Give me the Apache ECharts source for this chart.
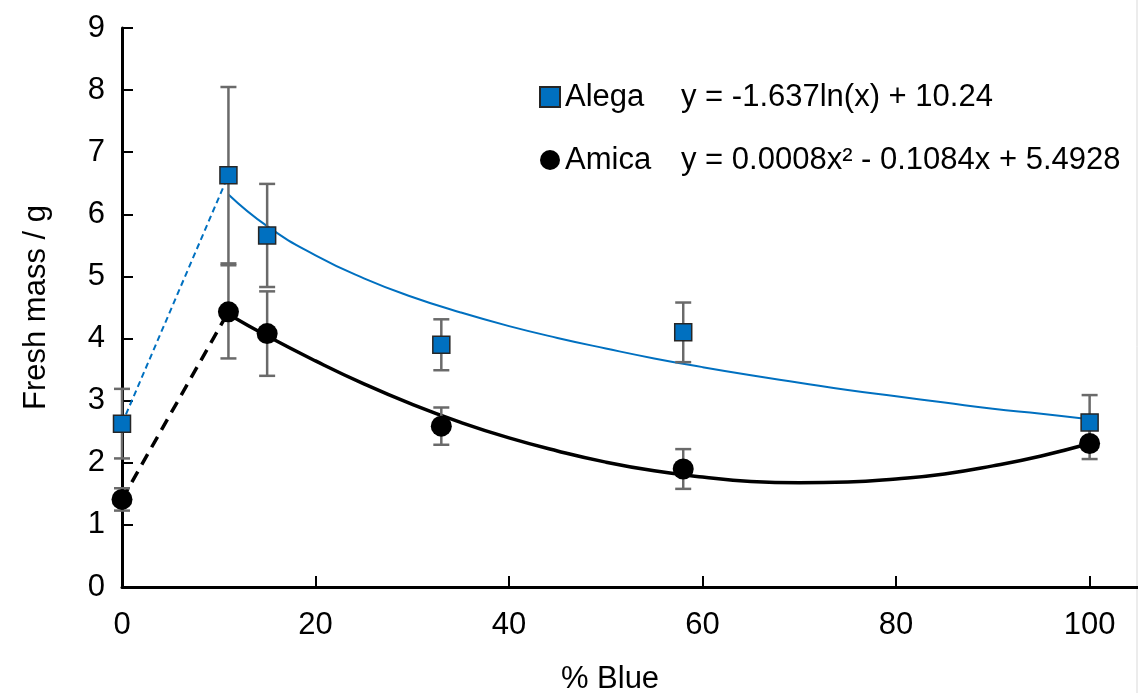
<!DOCTYPE html>
<html>
<head>
<meta charset="utf-8">
<script src="https://cdn.jsdelivr.net/npm/echarts@6/dist/echarts.min.js"></script>
<style>html,body{margin:0;padding:0;background:#fff}#c{width:1138px;height:693px}</style>
</head>
<body>
<div id="c"></div>
<script>
// ---- data ----
const xBlue = [0, 11, 15, 33, 58, 100];
const alegaMean = [2.63, 6.63, 5.66, 3.90, 4.10, 2.65];
const alegaErr  = [0.56, 1.42, 0.83, 0.41, 0.48, 0.44];
const amicaMean = [1.41, 4.43, 4.08, 2.59, 1.90, 2.31];
const amicaErr  = [0.18, 0.75, 0.68, 0.30, 0.32, 0.25];

// trend-line samples (11 .. 100)
const trendX = [11, 15, 20, 25, 30, 35, 40, 45, 50, 55, 60, 65, 70, 75, 80, 85, 90, 95, 100];
const alegaTrend = [6.32, 5.81, 5.34, 4.97, 4.67, 4.42, 4.20, 4.01, 3.84, 3.68, 3.54, 3.41, 3.29, 3.17, 3.07, 2.97, 2.87, 2.79, 2.70];
const amicaTrend = [4.39, 4.04, 3.64, 3.27, 2.94, 2.65, 2.40, 2.19, 2.01, 1.87, 1.77, 1.70, 1.68, 1.69, 1.74, 1.82, 1.95, 2.11, 2.31];

const xTicks = [0, 20, 40, 60, 80, 100];
const legendEq = {
  'Alega': 'y = -1.637ln(x) + 10.24',
  'Amica': 'y = 0.0008x\u00B2 - 0.1084x + 5.4928'
};
const xName = '% Blue';
const yName = 'Fresh mass / g';

// ---- build ----
const FONT = "'Liberation Sans', Arial, sans-serif";
const FS = 31;
const BLUE = '#0070C0';
const ERR = '#6a6a6a';

const pts = (xs, ys) => xs.map((x, i) => [x, ys[i]]);
const errData = (xs, m, e) => xs.map((x, i) => [x, m[i] - e[i], m[i] + e[i]]);

function errRender(params, api) {
  const x = api.value(0), lo = api.value(1), hi = api.value(2);
  const pLo = api.coord([x, lo]), pHi = api.coord([x, hi]);
  const hw = 8;
  const st = { stroke: ERR, lineWidth: 2.5 };
  return {
    type: 'group',
    children: [
      { type: 'line', shape: { x1: pLo[0], y1: pLo[1], x2: pHi[0], y2: pHi[1] }, style: st },
      { type: 'line', shape: { x1: pLo[0] - hw, y1: pLo[1], x2: pLo[0] + hw, y2: pLo[1] }, style: st },
      { type: 'line', shape: { x1: pHi[0] - hw, y1: pHi[1], x2: pHi[0] + hw, y2: pHi[1] }, style: st }
    ]
  };
}

const chart = echarts.init(document.getElementById('c'), null, { renderer: 'canvas' });
chart.setOption({
  animation: false,
  backgroundColor: '#fff',
  textStyle: { fontFamily: FONT },
  grid: { left: 122, right: 0, top: 28, bottom: 106, outerBoundsMode: 'none' },
  xAxis: {
    type: 'value', min: 0, max: 105,
    name: xName, nameLocation: 'middle', nameGap: 77,
    nameTextStyle: { fontSize: FS, color: '#000', fontFamily: FONT, padding: [0, 40, 0, 0] },
    axisLine: { show: true, lineStyle: { color: '#000', width: 3 } },
    axisTick: { show: true, inside: true, length: 11, customValues: xTicks, lineStyle: { color: '#000', width: 2 } },
    axisLabel: { customValues: xTicks, fontSize: FS, color: '#000', margin: 23, fontFamily: FONT },
    splitLine: { show: false }
  },
  yAxis: {
    type: 'value', min: 0, max: 9, interval: 1,
    name: yName, nameLocation: 'middle', nameGap: 70, nameRotate: 90,
    nameTextStyle: { fontSize: FS, color: '#000', fontFamily: FONT, padding: [0, 0, 0, 0] },
    axisLine: { show: true, lineStyle: { color: '#000', width: 3 } },
    axisTick: { show: true, inside: true, length: 11, lineStyle: { color: '#000', width: 2 } },
    axisLabel: { fontSize: FS, color: '#000', margin: 17, fontFamily: FONT },
    splitLine: { show: false }
  },
  legend: {
    orient: 'vertical', left: 534, top: 72, itemGap: 23,
    itemWidth: 20, itemHeight: 20,
    data: [
      { name: 'Alega', icon: 'rect', itemStyle: { opacity: 1 } },
      { name: 'Amica', icon: 'circle', itemStyle: { opacity: 1 } }
    ],
    formatter: n => `{n|${n}}{e|${legendEq[n]}}`,
    textStyle: {
      fontFamily: FONT, fontSize: FS, color: '#000', lineHeight: 40,
      rich: {
        n: { width: 116, fontSize: FS, fontFamily: FONT, color: '#000' },
        e: { fontSize: FS, fontFamily: FONT, color: '#000' }
      }
    }
  },
  graphic: [
    { type: 'line', shape: { x1: 1137, y1: 0, x2: 1137, y2: 693 }, style: { stroke: '#d9d9d9', lineWidth: 1 }, z: -1 }
  ],
  series: [
    {
      name: 'AlegaDash', type: 'line', data: pts(xBlue.slice(0, 2), alegaMean.slice(0, 2)),
      symbol: 'none', lineStyle: { color: BLUE, width: 2, type: [6, 4] }, z: 2
    },
    {
      name: 'AmicaDash', type: 'line', data: pts(xBlue.slice(0, 2), amicaMean.slice(0, 2)),
      symbol: 'none', lineStyle: { color: '#000', width: 3.5, type: [12, 8] }, z: 2
    },
    {
      name: 'AlegaTrend', type: 'line', data: pts(trendX, alegaTrend), smooth: true,
      symbol: 'none', lineStyle: { color: BLUE, width: 2 }, z: 2
    },
    {
      name: 'AmicaTrend', type: 'line', data: pts(trendX, amicaTrend), smooth: true,
      symbol: 'none', lineStyle: { color: '#000', width: 3.5 }, z: 2
    },
    {
      name: 'AlegaErr', type: 'custom', renderItem: errRender, data: errData(xBlue, alegaMean, alegaErr), z: 3
    },
    {
      name: 'AmicaErr', type: 'custom', renderItem: errRender, data: errData(xBlue, amicaMean, amicaErr), z: 3
    },
    {
      name: 'Alega', type: 'scatter', data: pts(xBlue, alegaMean), symbol: 'rect', symbolSize: 17,
      itemStyle: { color: BLUE, borderColor: '#262626', borderWidth: 1.5, opacity: 1 }, z: 5
    },
    {
      name: 'Amica', type: 'scatter', data: pts(xBlue, amicaMean), symbol: 'circle', symbolSize: 21,
      itemStyle: { color: '#000', opacity: 1 }, z: 6
    }
  ]
});
</script>
</body>
</html>
